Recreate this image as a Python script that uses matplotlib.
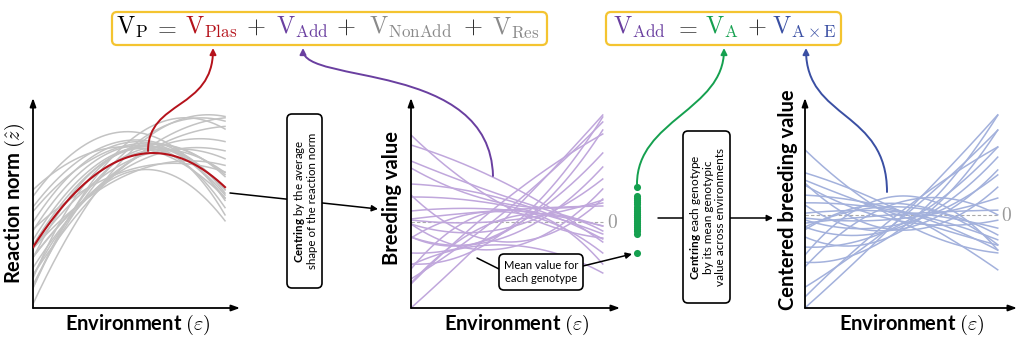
import numpy as np
import matplotlib
matplotlib.use('Agg')
import matplotlib.pyplot as plt
from matplotlib.patches import FancyBboxPatch, FancyArrowPatch
from matplotlib.path import Path
from matplotlib.transforms import IdentityTransform

# ---------------- data ----------------
env_points = [-1.0, 0.0, 1.0]            # environments (epsilon): left, centre, right
mean_norm = [92, 229, 183]               # population average reaction norm at env_points
# breeding values (genotype deviation from the average norm) at env_points
bv_left   = [87, 77, 61, 27, 38, 25, 11, 2, -2, 3, -15, -43, -15, -31, -42, -61, -57, -62, -86, -16, 54, -47, -2]
bv_centre = [15, 38, 25, -20, 22, 16, 12, 1.5, -6, 12, -14.5, -23, -9, -8, -8, 4, 12, 23.5, 5, 10, 18, 12, -26]
bv_right  = [-16, -20, -4, 23, -17, -12, -4, 22, 43, 16, 55, -51, 92, 69, 105, -9, 100, 88, 107, -31, 19, -42, 33]

# ---------------- style ----------------
plt.rcParams['font.family'] = ['Lato', 'DejaVu Sans']
plt.rcParams['mathtext.fontset'] = 'custom'
plt.rcParams['mathtext.rm'] = 'Lato'
plt.rcParams['mathtext.bf'] = 'Lato:bold'
plt.rcParams['mathtext.it'] = 'Lato:italic'

W, H = 1024, 343
fig = plt.figure(figsize=(W / 100, H / 100), dpi=100)
ID = IdentityTransform()

def Y(y):
    return H - y

C_RED = '#b5121b'
C_PURP = '#6a3fa0'
C_GREEN = '#15a04f'
C_BLUE = '#3a4fa3'
C_GRAY = '#8a8a8a'
C_GOLD = '#f4c430'

eps = np.linspace(-1, 1, 201)

def curve(vals):
    return np.polyval(np.polyfit(env_points, vals, 2), eps)

def make_ax(x0, x1, ytop, ybot, ylim, xmax):
    ax = fig.add_axes([x0 / W, 1 - ybot / H, (x1 - x0) / W, (ybot - ytop) / H])
    ax.set_xlim(-1, xmax)
    ax.set_ylim(*ylim)
    ax.set_axis_off()
    ap = dict(arrowstyle='-|>,head_length=0.5,head_width=0.18', lw=1.3, color='black',
              shrinkA=0, shrinkB=0, mutation_scale=10)
    ax.annotate('', xy=(0, 1), xytext=(0, 0), xycoords='axes fraction', arrowprops=ap)
    ax.annotate('', xy=(1, 0), xytext=(0, 0), xycoords='axes fraction', arrowprops=ap)
    return ax

bv_curves = [curve([l, c, r]) for l, c, r in zip(bv_left, bv_centre, bv_right)]
mean_curve = curve(mean_norm)
geno_means = [np.mean(c) for c in bv_curves]

# Panel 1: reaction norms
ax1 = make_ax(33, 240, 98, 308, (0, 318), 1.156)
for c in bv_curves:
    ax1.plot(eps, mean_curve + c, color='#c3c3c3', lw=1.1)
ax1.plot(eps, mean_curve, color=C_RED, lw=1.5, zorder=5)

# Panel 2: breeding values
ax2 = make_ax(411, 620, 98, 308, (-86, 124), 1.18)
ax2.plot([-1, 1], [0, 0], color='#aaaaaa', lw=0.8, ls=(0, (3, 2)), zorder=1)
for c in bv_curves:
    ax2.plot(eps, c, color='#c0a7dc', lw=1.1, zorder=2)
ax2.text(1.104, 0, '$0$', color='#999999', fontsize=14, math_fontfamily='cm',
         ha='center', va='center')
ax2.scatter([1.354] * len(geno_means), geno_means, s=26, color=C_GREEN, clip_on=False, zorder=6,
            linewidths=0)

# Panel 3: centred breeding values
ax3 = make_ax(805, 1017, 98, 308, (-93, 117), 1.2)
ax3.plot([-1, 1], [0, 0], color='#aaaaaa', lw=0.8, ls=(0, (3, 2)), zorder=1)
for c, m in zip(bv_curves, geno_means):
    ax3.plot(eps, c - m, color='#a3b1dc', lw=1.1, zorder=2)
ax3.text(1.093, 0, '$0$', color='#999999', fontsize=14, math_fontfamily='cm',
         ha='center', va='center')

# axis labels
lab = dict(fontsize=14.5, fontweight='bold', math_fontfamily='cm', ha='center', va='center',
           transform=ID)
fig.text(15, Y(203), r'Reaction norm $(\hat{z})$', rotation=90, **lab)
fig.text(392, Y(198), 'Breeding value', rotation=90, **lab)
fig.text(788, Y(200), 'Centered breeding value', rotation=90, **lab)
for xc in (138, 517, 912):
    fig.text(xc, Y(325), r'Environment $(\varepsilon)$', **lab)

# ---------------- annotation boxes ----------------
def rbox(x0, y0, x1, y1, ec='black', lw=1.2, r=5):
    p = FancyBboxPatch((x0, Y(y1)), x1 - x0, y1 - y0,
                       boxstyle=f'round,pad=0,rounding_size={r}',
                       transform=ID, fc='white', ec=ec, lw=lw, zorder=5)
    fig.add_artist(p)

def arrow(p0, p1, head=True, lw=1.1, color='black'):
    a = FancyArrowPatch((p0[0], Y(p0[1])), (p1[0], Y(p1[1])), transform=ID,
                        arrowstyle='-|>' if head else '-', mutation_scale=9,
                        lw=lw, color=color, shrinkA=0, shrinkB=0, zorder=4)
    fig.add_artist(a)

def bez(pts, color, lw=1.4):
    verts = [(x, Y(y)) for x, y in pts]
    path = Path(verts, [Path.MOVETO, Path.CURVE4, Path.CURVE4, Path.CURVE4])
    a = FancyArrowPatch(path=path, transform=ID, arrowstyle='-|>', mutation_scale=9,
                        lw=lw, color=color, zorder=4)
    fig.add_artist(a)

# box 1 + arrow
arrow((230, 193), (378, 209))
rbox(287, 114, 322, 288)
fig.text(305, Y(201), '$\\mathbf{Centring}$ by the average\nshape of the reaction norm',
         rotation=90, ha='center', va='center', fontsize=8.3, linespacing=1.1,
         transform=ID, zorder=6)

# box 2 + arrow
arrow((658, 218), (773, 218))
rbox(683, 131, 730, 303)
fig.text(707, Y(217), '$\\mathbf{Centring}$ each genotype\nby its mean genotypic\nvalue across environments',
         rotation=90, ha='center', va='center', fontsize=8.5, linespacing=1.1,
         transform=ID, zorder=6)

# box 3 (mean value)
arrow((499, 269), (477, 258), head=False)
arrow((583, 266), (632, 254))
rbox(499, 254, 583, 290)
fig.text(541, Y(272), 'Mean value for\neach genotype', ha='center', va='center',
         fontsize=8, linespacing=1.3, transform=ID, zorder=6)

# ---------------- formulas ----------------
rbox(112, 12, 547, 45, ec=C_GOLD, lw=1.6, r=5)
rbox(606, 12, 841, 45, ec=C_GOLD, lw=1.6, r=5)
ft = dict(fontsize=17.5, math_fontfamily='cm', ha='center', va='baseline', transform=ID, zorder=6)
pieces = [
    (132.5, r'$\mathrm{V}_{\mathrm{P}}$', 'black'),
    (165, r'$=$', '#333333'),
    (211.5, r'$\mathrm{V}_{\mathrm{Plas}}$', C_RED),
    (256, r'$+$', '#333333'),
    (302.5, r'$\mathrm{V}_{\mathrm{Add}}$', C_PURP),
    (346, r'$+$', '#333333'),
    (410.5, r'$\mathrm{V}_{\mathrm{NonAdd}}$', C_GRAY),
    (472.5, r'$+$', '#333333'),
    (515.5, r'$\mathrm{V}_{\mathrm{Res}}$', C_GRAY),
    (639, r'$\mathrm{V}_{\mathrm{Add}}$', C_PURP),
    (686, r'$=$', '#333333'),
    (721.5, r'$\mathrm{V}_{\mathrm{A}}$', C_GREEN),
    (757, r'$+$', '#333333'),
    (804, r'$\mathrm{V}_{\mathrm{A}\times\mathrm{E}}$', C_BLUE),
]
for x, s, col in pieces:
    fig.text(x, Y(34), s, color=col, **ft)

# connectors
bez([(148, 151), (148, 100), (213, 110), (213, 48)], C_RED)
bez([(493, 176), (490, 60), (303, 85), (303, 48)], C_PURP)
bez([(637, 184), (637, 120), (724, 110), (724, 48)], C_GREEN)
bez([(887, 192), (887, 110), (806, 120), (806, 48)], C_BLUE)

fig.savefig('out.png', dpi=100)
